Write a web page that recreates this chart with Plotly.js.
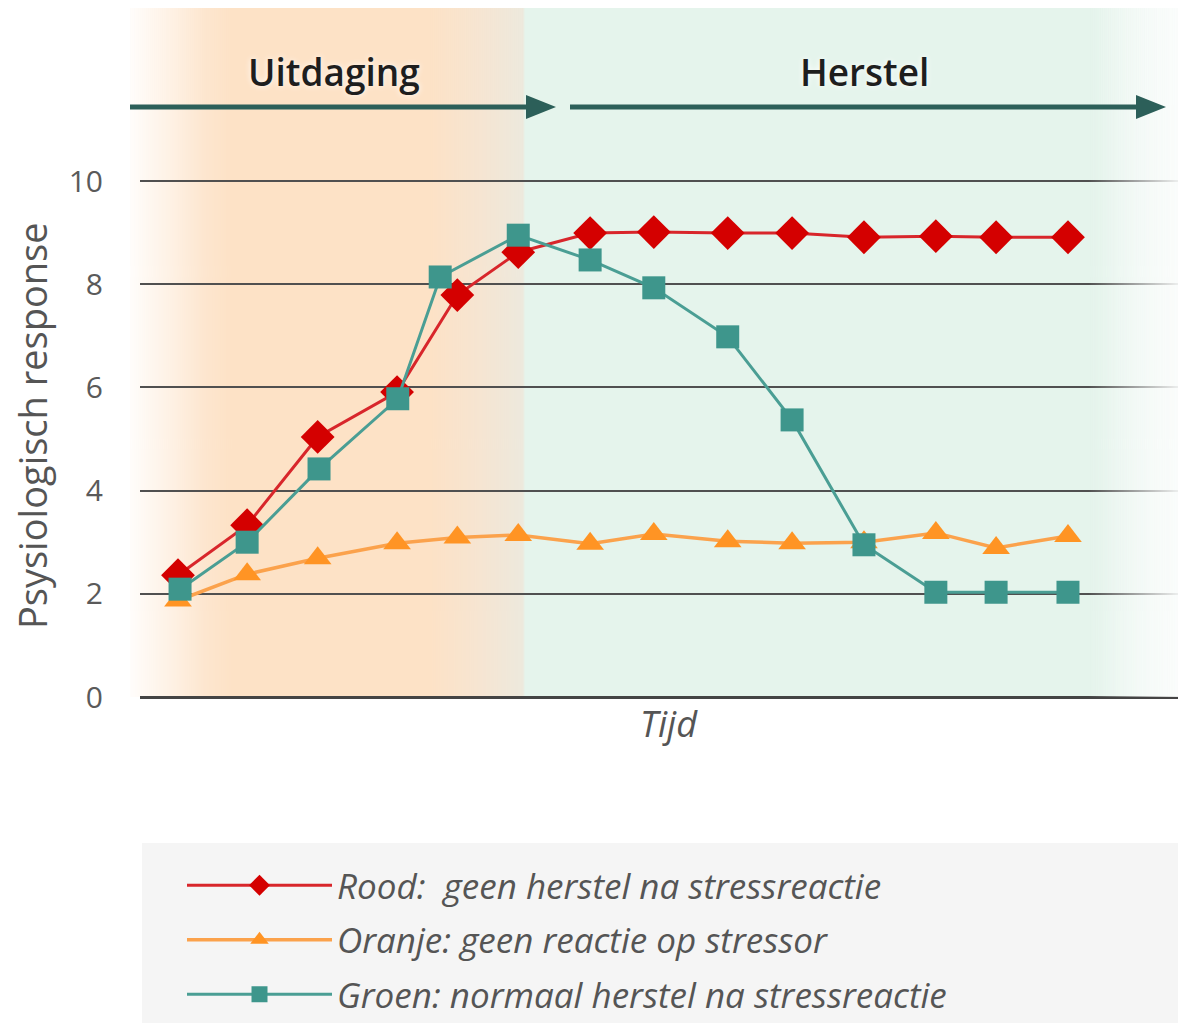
<!DOCTYPE html>
<html>
<head>
<meta charset="utf-8">
<script src="https://cdn.plot.ly/plotly-3.0.1.min.js"></script>
<style>
html,body{margin:0;padding:0;background:#ffffff;}
#chart{width:1178px;height:1023px;}
</style>
</head>
<body>
<div id="chart"></div>
<script>
// ---- data ----
const tijdRood   = [1.0, 2.01, 3.04, 4.2, 5.08, 5.97, 7.02, 7.95, 9.03, 9.97, 11.02, 12.07, 12.95, 14.0];
const rood       = [2.36, 3.33, 5.04, 5.91, 7.79, 8.62, 8.99, 9.01, 8.99, 8.99, 8.91, 8.93, 8.91, 8.91];
const tijdOranje = [1.0, 2.01, 3.04, 4.2, 5.08, 5.97, 7.02, 7.95, 9.03, 9.97, 11.02, 12.07, 12.95, 14.0];
const oranje     = [1.87, 2.38, 2.69, 2.98, 3.09, 3.14, 2.97, 3.16, 3.02, 2.98, 3.0, 3.18, 2.89, 3.12];
const tijdGroen  = [1.03, 2.01, 3.06, 4.21, 4.83, 5.97, 7.02, 7.95, 9.03, 9.97, 11.02, 12.07, 12.95, 14.0];
const groen      = [2.09, 3.0, 4.42, 5.78, 8.14, 8.95, 8.47, 7.93, 6.98, 5.37, 2.95, 2.03, 2.03, 2.03];
const yTicks     = [0, 2, 4, 6, 8, 10];
const seriesNames = ['Rood:  geen herstel na stressreactie',
                     'Oranje: geen reactie op stressor',
                     'Groen: normaal herstel na stressreactie'];
const phaseLabels = ['Uitdaging', 'Herstel'];
const yTitle = 'Psysiologisch response';
const xTitle = 'Tijd';

// ---- layout geometry ----
const W = 1178, H = 1023, ML = 140, MR = 0, MT = 8, MB = 326;
const plotW = W - ML - MR, plotH = H - MT - MB;
const pxX = v => (v - ML) / plotW;          // pixel -> paper x
const pxY = v => (H - MB - v) / plotH;      // pixel -> paper y
const yPerUnit = 51.6;
const xPerUnit = 68.46;
const xRange = [1 - (178 - ML) / xPerUnit, 1 + (W - MR - 178) / xPerUnit];
const yRange = [0, plotH / yPerUnit];

function gradientImage(w, stops) {
  const c = document.createElement('canvas');
  c.width = w; c.height = 4;
  const g = c.getContext('2d');
  const gr = g.createLinearGradient(0, 0, w, 0);
  stops.forEach(s => gr.addColorStop(s[0], s[1]));
  g.fillStyle = gr;
  g.fillRect(0, 0, w, 4);
  return c.toDataURL();
}
const bgW = W - 130;
const f = p => (p - 130) / bgW;
const bgSrc = gradientImage(bgW, [
  [0, '#fffdfb'], [f(175), '#fef0e2'], [f(205), '#fde6cf'], [f(232), '#fde2c6'],
  [f(430), '#fde2c6'], [f(480), '#f6e5d2'], [f(523), '#ede9dd'],
  [f(525), '#e5f4ec'], [f(1100), '#e5f4ec'], [1, '#f7fbf9']
]);
const fadeW = 90;
const fadeSrc = gradientImage(fadeW, [[0, 'rgba(247,251,249,0)'], [1, 'rgba(250,252,251,0.92)']]);

const teal = '#2c5f59';
const arrowY = 107, headH = 12;
function headPath(xb, xt) {
  return 'M' + pxX(xb) + ',' + pxY(arrowY - headH) + ' L' + pxX(xt) + ',' + pxY(arrowY) +
         ' L' + pxX(xb) + ',' + pxY(arrowY + headH) + ' Z';
}

const traces = [
  {
    x: tijdOranje, y: oranje, name: seriesNames[1], type: 'scatter', mode: 'lines+markers',
    line: {color: '#fba24c', width: 3.5},
    marker: {symbol: 'triangle-up', size: 24, color: '#ff9424'},
    legendgroup: 'o', legendrank: 2, hoverinfo: 'skip'
  },
  {
    x: tijdRood, y: rood, name: seriesNames[0], type: 'scatter', mode: 'lines+markers',
    line: {color: '#d8262b', width: 3},
    marker: {symbol: 'diamond', size: 26, color: '#d40000'},
    legendgroup: 'r', legendrank: 1, hoverinfo: 'skip'
  },
  {
    x: tijdGroen, y: groen, name: seriesNames[2], type: 'scatter', mode: 'lines+markers',
    line: {color: '#4a9e94', width: 3},
    marker: {symbol: 'square', size: 23, color: '#3e968c'},
    legendgroup: 'g', legendrank: 3, hoverinfo: 'skip'
  }
];

const layout = {
  width: W, height: H,
  margin: {l: ML, r: MR, t: MT, b: MB, pad: 0, autoexpand: false},
  paper_bgcolor: '#ffffff',
  plot_bgcolor: 'rgba(0,0,0,0)',
  font: {family: 'Open Sans, sans-serif', color: '#555555'},
  xaxis: {
    range: xRange, showgrid: false, zeroline: false, showticklabels: false,
    ticks: '', showline: false, fixedrange: true
  },
  yaxis: {
    range: yRange, tickvals: yTicks, ticktext: yTicks.map(String),
    showgrid: true, gridcolor: '#505050', gridwidth: 2,
    zeroline: true, zerolinecolor: '#444444', zerolinewidth: 3,
    ticks: '', showline: false, ticklabelstandoff: 36,
    tickfont: {family: 'Open Sans, sans-serif', size: 30, color: '#5a5a5a'},
    fixedrange: true
  },
  showlegend: true,
  legend: {
    x: pxX(182), xanchor: 'left', y: pxY(856), yanchor: 'top',
    bgcolor: 'rgba(0,0,0,0)', borderwidth: 0,
    font: {family: 'Open Sans, sans-serif', size: 35, color: '#555555', style: 'italic'},
    itemwidth: 145, tracegroupgap: 6, traceorder: 'grouped', itemsizing: 'trace',
    itemclick: false, itemdoubleclick: false
  },
  images: [
    {source: bgSrc, xref: 'paper', yref: 'paper', x: pxX(130), y: 1, sizex: bgW / plotW, sizey: 1,
     xanchor: 'left', yanchor: 'top', sizing: 'stretch', layer: 'below'},
    {source: fadeSrc, xref: 'paper', yref: 'paper', x: pxX(W - fadeW), y: 1, sizex: fadeW / plotW, sizey: 1,
     xanchor: 'left', yanchor: 'top', sizing: 'stretch', layer: 'above'}
  ],
  shapes: [
    {type: 'rect', xref: 'paper', yref: 'paper', x0: pxX(142), x1: pxX(W), y0: pxY(843), y1: pxY(H),
     fillcolor: '#f5f5f5', line: {width: 0}, layer: 'below'},
    {type: 'line', xref: 'paper', yref: 'paper', x0: pxX(130), x1: pxX(530), y0: pxY(arrowY), y1: pxY(arrowY),
     line: {color: teal, width: 5}},
    {type: 'path', xref: 'paper', yref: 'paper', path: headPath(526, 556), fillcolor: teal, line: {width: 0}},
    {type: 'line', xref: 'paper', yref: 'paper', x0: pxX(570), x1: pxX(1140), y0: pxY(arrowY), y1: pxY(arrowY),
     line: {color: teal, width: 5}},
    {type: 'path', xref: 'paper', yref: 'paper', path: headPath(1136, 1166), fillcolor: teal, line: {width: 0}}
  ],
  annotations: [
    {text: phaseLabels[0], xref: 'paper', yref: 'paper', x: pxX(334), y: pxY(71), showarrow: false,
     xanchor: 'center', yanchor: 'middle',
     font: {family: 'Open Sans, sans-serif', size: 37, weight: 600, color: '#1e1e1e', shadow: '0px 0px 6px #ffffff'}},
    {text: phaseLabels[1], xref: 'paper', yref: 'paper', x: pxX(864), y: pxY(71), showarrow: false,
     xanchor: 'center', yanchor: 'middle',
     font: {family: 'Open Sans, sans-serif', size: 37, weight: 600, color: '#1e1e1e', shadow: '0px 0px 6px #ffffff'}},
    {text: yTitle, xref: 'paper', yref: 'paper', x: pxX(32), y: pxY(426), showarrow: false, textangle: -90,
     xanchor: 'center', yanchor: 'middle',
     font: {family: 'Open Sans, sans-serif', size: 38, color: '#555555'}},
    {text: xTitle, xref: 'paper', yref: 'paper', x: pxX(669), y: pxY(723), showarrow: false,
     xanchor: 'center', yanchor: 'middle',
     font: {family: 'Open Sans, sans-serif', size: 36, color: '#555555', style: 'italic'}}
  ]
};

Plotly.newPlot('chart', traces, layout, {staticPlot: true, displayModeBar: false});
</script>
</body>
</html>
